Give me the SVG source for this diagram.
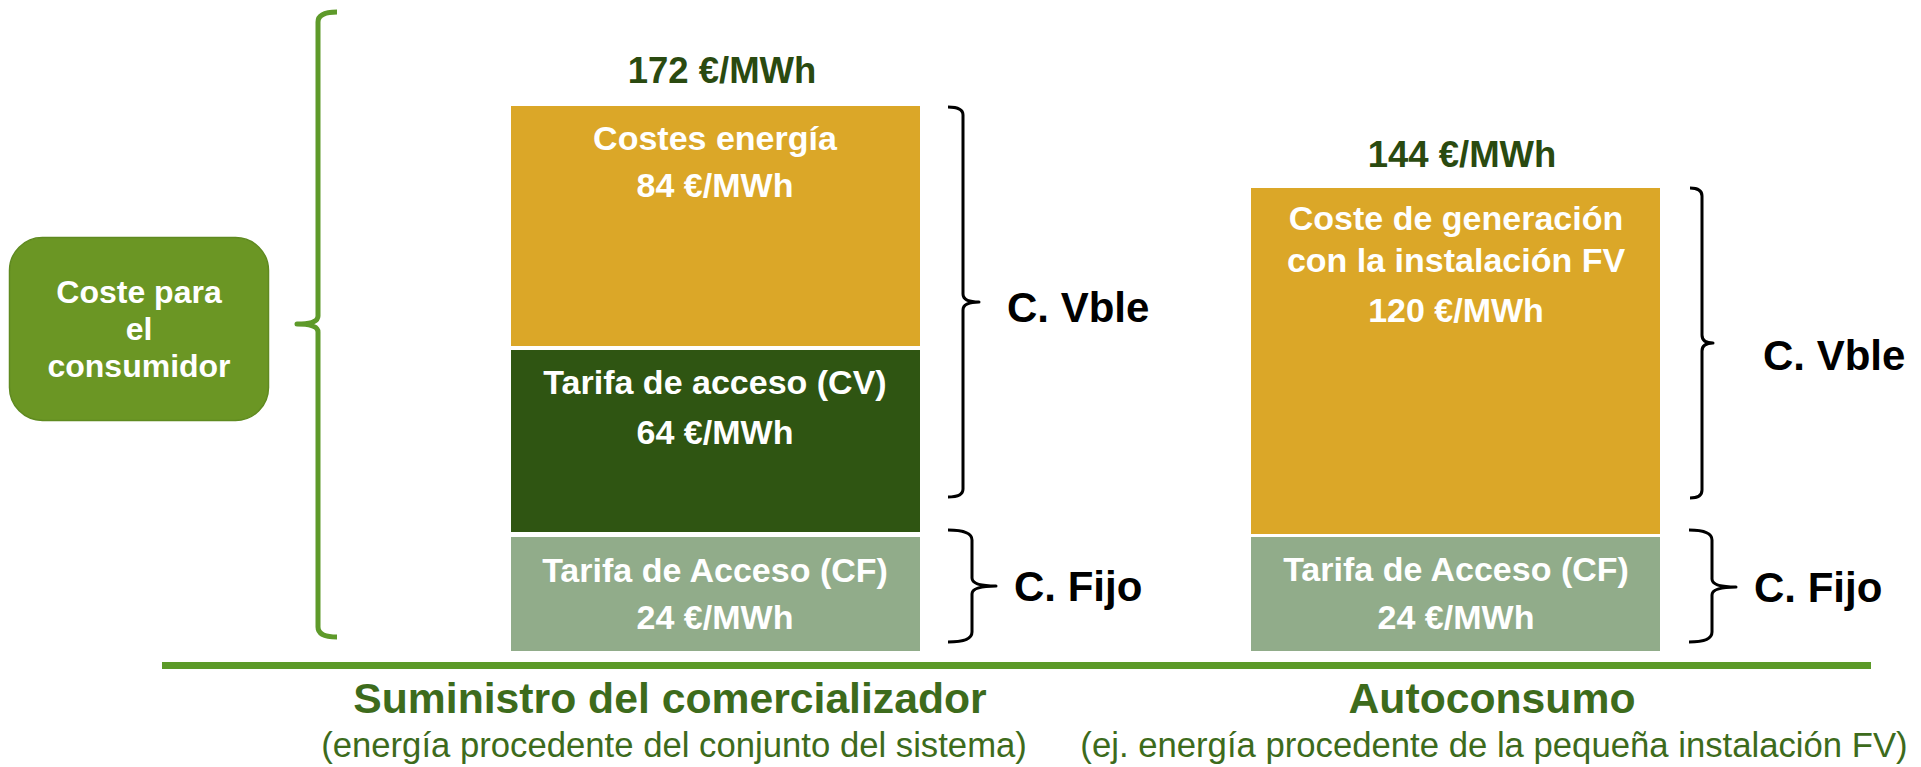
<svg xmlns="http://www.w3.org/2000/svg" width="1921" height="767" viewBox="0 0 1921 767">
<style>
text{font-family:"Liberation Sans",Arial,sans-serif;text-anchor:middle}
.w{fill:#ffffff;font-weight:bold;font-size:34px}
.tot{fill:#2A4A10;font-weight:bold;font-size:36.5px}
.lab{fill:#000000;font-weight:bold;font-size:42px;text-anchor:start}
.ttl{fill:#3D6B1C;font-weight:bold;font-size:42.7px}
.sub{fill:#3D6B1C;font-size:34.7px}
.brace{fill:none;stroke:#000000;stroke-width:3;stroke-linejoin:round}
.gbrace{fill:none;stroke:#5E9A2A;stroke-width:5;stroke-linejoin:round}
.or{fill:#DBA728}
.dg{fill:#2F5512}
.lg{fill:#91AC8A}
</style>
<g id="consumidor">
<rect x="9.5" y="237.5" width="259" height="183" rx="33" fill="#6B9624" stroke="#5F8A20" stroke-width="1.5"/>
<text class="w" x="139" y="303" style="font-size:32px">Coste para</text>
<text class="w" x="139" y="340" style="font-size:32px">el</text>
<text class="w" x="139" y="377" style="font-size:32px">consumidor</text>
</g>
<g id="connectors">
<path class="gbrace" d="M337,12 Q318,12 318,22 L318,316 Q318,324 297,324 Q318,324 318,332 L318,627 Q318,637 337,637"/>
<path class="brace" d="M948,107 Q963,107 963,115 L963,294 Q963,302 979,302 Q963,302 963,310 L963,489 Q963,497 948,497"/>
<path class="brace" d="M948,530 Q972,530 972,540 L972,578 Q972,586 996,586 Q972,586 972,594 L972,632 Q972,642 948,642"/>
<path class="brace" d="M1690,188 Q1702,188 1702,196 L1702,335 Q1702,343 1713,343 Q1702,343 1702,351 L1702,490 Q1702,498 1690,498"/>
<path class="brace" d="M1689,530 Q1712,530 1712,540 L1712,579 Q1712,587 1736,587 Q1712,587 1712,595 L1712,632 Q1712,642 1689,642"/>
</g>
<g id="baseline">
<rect x="162" y="662" width="1709" height="7" fill="#5C9A28"/>
</g>
<g id="total-suministro">
<text class="tot" x="722" y="83">172 €/MWh</text>
</g>
<g id="costes-energia">
<rect class="or" x="511" y="106" width="409" height="240"/>
<text class="w" x="715" y="150">Costes energía</text>
<text class="w" x="715" y="197">84 €/MWh</text>
</g>
<g id="tarifa-cv">
<rect class="dg" x="511" y="350" width="409" height="182"/>
<text class="w" x="715" y="394">Tarifa de acceso (CV)</text>
<text class="w" x="715" y="444">64 €/MWh</text>
</g>
<g id="tarifa-cf-1">
<rect class="lg" x="511" y="537" width="409" height="114"/>
<text class="w" x="715" y="582">Tarifa de Acceso (CF)</text>
<text class="w" x="715" y="629">24 €/MWh</text>
</g>
<g id="total-autoconsumo">
<text class="tot" x="1462" y="167">144 €/MWh</text>
</g>
<g id="coste-generacion">
<rect class="or" x="1251" y="188" width="409" height="346"/>
<text class="w" x="1456" y="230">Coste de generación</text>
<text class="w" x="1456" y="272">con la instalación FV</text>
<text class="w" x="1456" y="322">120 €/MWh</text>
</g>
<g id="tarifa-cf-2">
<rect class="lg" x="1251" y="537" width="409" height="114"/>
<text class="w" x="1456" y="581">Tarifa de Acceso (CF)</text>
<text class="w" x="1456" y="629">24 €/MWh</text>
</g>
<g id="labels">
<text class="lab" x="1007" y="322">C. Vble</text>
<text class="lab" x="1014" y="601">C. Fijo</text>
<text class="lab" x="1763" y="370">C. Vble</text>
<text class="lab" x="1754" y="602">C. Fijo</text>
</g>
<g id="titulos">
<text class="ttl" x="670" y="713">Suministro del comercializador</text>
<text class="sub" x="674" y="757">(energía procedente del conjunto del sistema)</text>
<text class="ttl" x="1492" y="713">Autoconsumo</text>
<text class="sub" x="1494" y="757">(ej. energía procedente de la pequeña instalación FV)</text>
</g>
</svg>
